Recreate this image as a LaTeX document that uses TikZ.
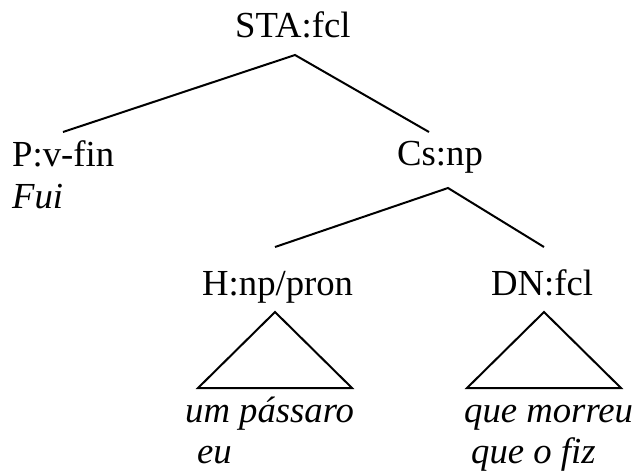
\documentclass[tikz,border=0pt]{standalone}
\usepackage{fontspec}
\setmainfont{Liberation Serif}
\usetikzlibrary{calc}
\begin{document}
\begin{tikzpicture}[x=1pt,y=-1pt,
  every node/.style={inner sep=0pt, font=\fontsize{36.7}{44}\selectfont},
  lbl/.style={anchor=base west},
  word/.style={anchor=base west, font=\fontsize{36.7}{44}\selectfont\itshape},
  edge/.style={line width=2pt, line join=miter}]
\useasboundingbox (0,0) rectangle (636,472);
\node[lbl] (sta) at (235,37) {STA:fcl};
\node[lbl] (pv) at (12,166) {P:v-fin};
\node[word] (fui) at (12,208) {Fui};
\node[lbl] (cs) at (397,165) {Cs:np};
\node[lbl] (h) at (202,295) {H:np/pron};
\node[lbl] (dn) at (491,295) {DN:fcl};
\node[word] (w1) at (185,422) {um pássaro};
\node[word] (w2) at (197,463) {eu};
\node[word] (w3) at (464,422) {que morreu};
\node[word] (w4) at (471,463) {que o fiz};
\draw[edge] ($(pv.base west)+(51,-34)$) -- ($(sta.base west)+(60,18)$) -- ($(cs.base west)+(32,-33)$);
\draw[edge] ($(h.base west)+(73,-48)$) -- ($(cs.base west)+(51,23)$) -- ($(dn.base west)+(53,-48)$);
\draw[edge] ($(h.base west)+(73,17)$) -- ($(w1.base west)+(13,-34)$) -- ($(w1.base west)+(167,-34)$) -- cycle;
\draw[edge] ($(dn.base west)+(53,17)$) -- ($(w3.base west)+(3,-34)$) -- ($(w3.base west)+(157,-34)$) -- cycle;
\end{tikzpicture}
\end{document}
